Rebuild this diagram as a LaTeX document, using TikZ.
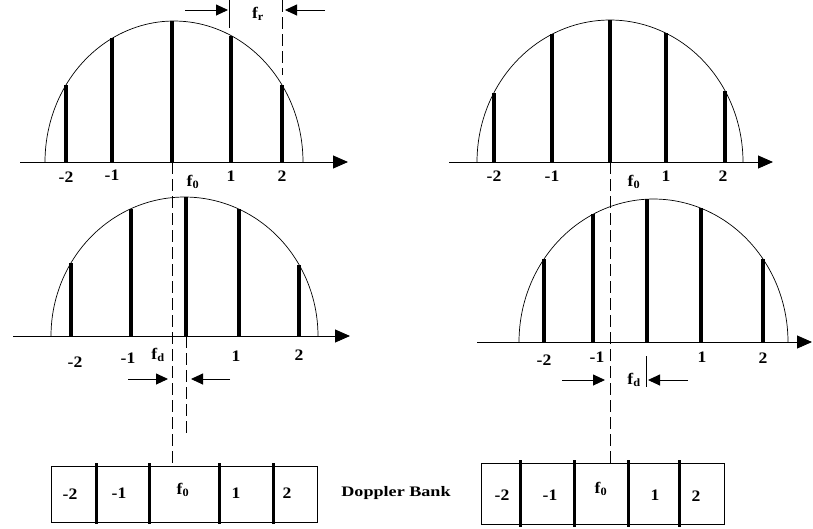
\documentclass[tikz,border=0pt]{standalone}
\usepackage{fontspec}
\setmainfont{Liberation Serif}[FakeStretch=1.1]
\newfontfamily\bankfont{Liberation Serif}[FakeStretch=1.25]
\usepackage{tikz}
\usetikzlibrary{arrows.meta}

%% half-ellipse envelope with its spectral lines:
%% #1 centre x, #2 axis y, #3 x radius, #4 y radius, #5 line positions
\newcommand{\lobe}[5]{%
  \draw[envelope] plot[domain=180:0, samples=90] ({#1+#3*cos(\x)}, {#2-#4*sin(\x)});
  \foreach \sx in {#5} {
    \pgfmathsetmacro\stemtop{#2-#4*sqrt(max(0,1-((\sx-#1)/#3)^2))}
    \draw[stemline] (\sx,#2) -- (\sx,\stemtop);
  }
}

\begin{document}
\begin{tikzpicture}[
  x=1pt, y=-1pt,
  envelope/.style={line width=0.7pt},
  stemline/.style={line width=3.6pt},
  axis/.style={-{Triangle[length=15pt,width=13pt]}, line width=0.9pt},
  guide/.style={line width=0.8pt, dash pattern=on 12pt off 5pt},
  span/.style={-{Triangle[length=12pt,width=11pt]}, line width=0.9pt},
  lbl/.style={inner sep=0pt, font=\bfseries\fontsize{16}{16}\selectfont},
  cell/.style={line width=0.9pt},
  divider/.style={line width=3pt}
]
\useasboundingbox (0,0) rectangle (813,528);
%% ── Top left: transmitted spectrum ──────────────────────────────────────
\draw[axis] (20,162) -- (348,162);
\lobe{174}{162}{129}{141}{66,112,172,231,282}
\node[lbl] (tlm2) at (66,177) {-2};
\node[lbl] (tlm1) at (112,175) {-1};
\node[lbl] (tlf0) at (193,182) {f\textsubscript{0}};
\node[lbl] (tlp1) at (231,176) {1};
\node[lbl] (tlp2) at (282,176) {2};
%% ── PRF spacing ─────────────────────────────────────────────────────────
\coordinate (frl) at (229,0);
\coordinate (frlb) at (229,28);
\coordinate (frr) at (282,0);
\coordinate (frrb) at (282,75);
\draw[line width=0.8pt] (frl) -- (frlb);
\draw[guide] (frr) -- (frrb);
\coordinate (fra) at (185,10);
\coordinate (frb) at (325,10);
\draw[span] (fra) -- (228,10);
\draw[span] (frb) -- (285,10);
\node[lbl] (fr) at (258,14) {f\textsubscript{r}};
%% ── Top right: transmitted spectrum ─────────────────────────────────────
\draw[axis] (449,162) -- (773,162);
\lobe{610}{162}{133}{142}{494,552,610,666,725}
\node[lbl] (trm2) at (494,176) {-2};
\node[lbl] (trm1) at (552,176) {-1};
\node[lbl] (trf0) at (634,182) {f\textsubscript{0}};
\node[lbl] (trp1) at (666,176) {1};
\node[lbl] (trp2) at (723,176) {2};
%% ── Middle left: received spectrum, small shift ─────────────────────────
\draw[axis] (13,336) -- (350,336);
\lobe{184.5}{336}{133.5}{139}{71,131,186,239,299}
\node[lbl] (mlm2) at (75,362) {-2};
\node[lbl] (mlm1) at (128,358) {-1};
\node[lbl] (mlfd) at (158,355) {f\textsubscript{d}};
\node[lbl] (mlp1) at (236,356) {1};
\node[lbl] (mlp2) at (299,355) {2};
\draw[span] (128,379) -- (168,379);
\draw[span] (230,379) -- (191,379);
%% ── Middle right: received spectrum, larger shift ───────────────────────
\draw[axis] (477,342) -- (812,342);
\lobe{653.5}{342}{134.5}{143}{544,593,647,701,763}
\node[lbl] (mrm2) at (544,360) {-2};
\node[lbl] (mrm1) at (597,357) {-1};
\node[lbl] (mrfd) at (634,380) {f\textsubscript{d}};
\node[lbl] (mrp1) at (702,357) {1};
\node[lbl] (mrp2) at (763,358) {2};
\coordinate (mrc) at (646,356);
\coordinate (mrcb) at (646,387);
\draw[line width=0.8pt] (mrc) -- (mrcb);
\draw[span] (562,380) -- (605,380);
\draw[span] (688,380) -- (648,380);
%% ── Doppler bank (left) ─────────────────────────────────────────────────
\draw[cell] (51,466) rectangle (317,522);
\foreach \d in {96,149,219,273} \draw[divider] (\d,463) -- (\d,524);
\node[lbl] (blm2) at (70,494) {-2};
\node[lbl] (blm1) at (119,493) {-1};
\node[lbl] (blf0) at (183,490) {f\textsubscript{0}};
\node[lbl] (blp1) at (236,493) {1};
\node[lbl] (blp2) at (287,493) {2};
\node[inner sep=0pt, font=\bankfont\bfseries\fontsize{14.5}{14.5}\selectfont] (bank) at (396,493) {Doppler Bank};
%% ── Doppler bank (right) ────────────────────────────────────────────────
\draw[cell] (481,463) rectangle (724,524);
\foreach \d in {520,574,628,679} \draw[divider] (\d,460) -- (\d,527);
\node[lbl] (brm2) at (502,495) {-2};
\node[lbl] (brm1) at (550,495) {-1};
\node[lbl] (brf0) at (601,489) {f\textsubscript{0}};
\node[lbl] (brp1) at (655,495) {1};
\node[lbl] (brp2) at (696,496) {2};
%% ── Guide lines down to the banks ───────────────────────────────────────
\coordinate (gl) at (172,162);
\coordinate (glb) at (172,466);
\coordinate (gm) at (186,336);
\coordinate (gmb) at (186,437);
\coordinate (gr) at (610,162);
\coordinate (grb) at (610,463);
\draw[guide] (gl) -- (glb);
\draw[guide] (gm) -- (gmb);
\draw[guide] (gr) -- (grb);
\end{tikzpicture}
\end{document}
